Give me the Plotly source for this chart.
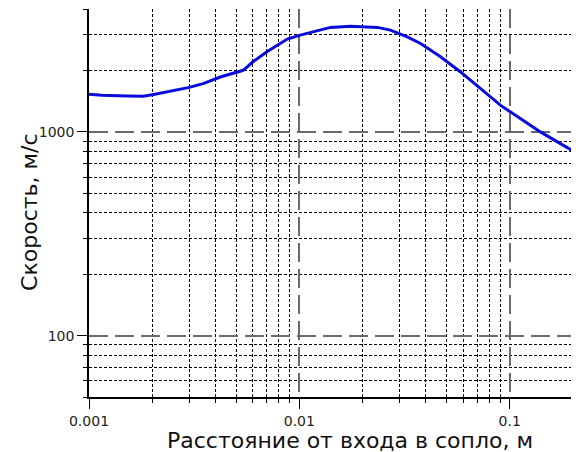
import numpy as np
import plotly.graph_objects as go

# Data
distance_m = [0.001, 0.00115, 0.00153, 0.00181, 0.002, 0.00248, 0.00296, 0.00349,
              0.00421, 0.00541, 0.00604, 0.00704, 0.00877, 0.0101, 0.0123, 0.01406,
              0.0175, 0.0235, 0.0271, 0.0326, 0.0377, 0.0411, 0.0469, 0.0584,
              0.0728, 0.0906, 0.1128, 0.1406, 0.175, 0.2, 0.215]
velocity_ms = [1530, 1510, 1500, 1493, 1521, 1587, 1648, 1723,
               1858, 2004, 2213, 2479, 2851, 2980, 3155, 3253,
               3300, 3253, 3155, 2925, 2711, 2563, 2333, 1967,
               1629, 1348, 1159, 996, 873, 806, 760]

x_major_vals = [0.001, 0.01, 0.1]
x_major_text = ["0.001", "0.01", "0.1"]
y_major_vals = [100, 1000]
y_major_text = ["100", "1000"]
x_minor_vals = [m * d for d in (0.001, 0.01, 0.1) for m in range(2, 10) if m * d <= 0.2001]
y_minor_vals = [m * d for d in (10, 100, 1000) for m in range(2, 10) if 50 <= m * d <= 4000]

x_title = "Расстояние от входа в сопло, м"
y_title = "Скорость, м/с"

fig = go.Figure()
fig.add_trace(go.Scatter(
    x=distance_m, y=velocity_ms, mode="lines",
    line=dict(color="#0a0adc", width=3),
    showlegend=False, hoverinfo="skip",
))

font_family = "DejaVu Sans"
axis_common = dict(
    showline=True, linecolor="black", linewidth=1.5, mirror=False,
    showgrid=True, gridcolor="#6a6a6a", gridwidth=1.5, griddash="19px,7px",
    ticks="outside", ticklen=10, tickcolor="black", tickwidth=1,
    tickfont=dict(family=font_family, size=14, color="#222222"),
    zeroline=False,
)

fig.update_xaxes(
    type="log", range=[-3, np.log10(0.2)],
    tickmode="array", tickvals=x_major_vals, ticktext=x_major_text,
    minor=dict(tickmode="array", tickvals=x_minor_vals, showgrid=True,
               gridcolor="black", gridwidth=1, griddash="3px,2px",
               ticks="outside", ticklen=4, tickcolor="black"),
    **axis_common,
)
fig.update_yaxes(
    type="log", range=[np.log10(50), np.log10(4000) + 0.0005],
    tickmode="array", tickvals=y_major_vals, ticktext=y_major_text,
    minor=dict(tickmode="array", tickvals=y_minor_vals, showgrid=True,
               gridcolor="black", gridwidth=1, griddash="3px,2px",
               ticks="outside", ticklen=4, tickcolor="black"),
    **axis_common,
)

fig.add_annotation(text=x_title, xref="paper", yref="paper",
                   x=0.539, y=-0.111, xanchor="center", yanchor="middle",
                   showarrow=False,
                   font=dict(family=font_family, size=22, color="#111111"))
fig.add_annotation(text=y_title, xref="paper", yref="paper",
                   x=-0.122, y=0.477, xanchor="center", yanchor="middle",
                   textangle=-90, showarrow=False,
                   font=dict(family=font_family, size=22, color="#111111"))

# the page places the figure 8px from the top-left corner; margins compensate
fig.update_layout(
    width=579, height=452,
    margin=dict(l=81, r=14, t=1, b=63),
    paper_bgcolor="white", plot_bgcolor="white",
    font=dict(family=font_family),
)

fig.write_html("out.html")
